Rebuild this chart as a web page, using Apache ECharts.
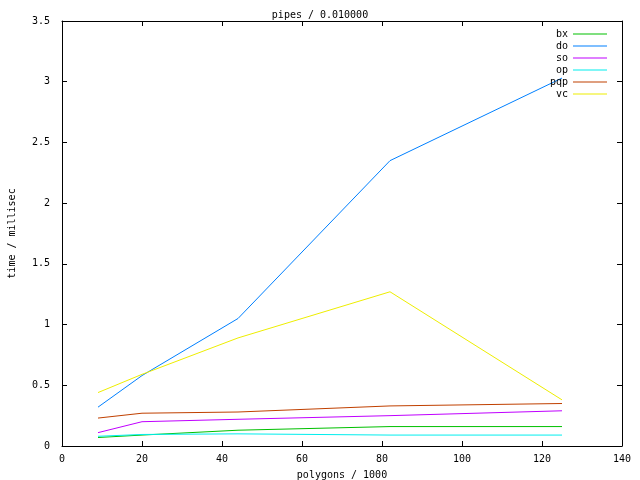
<!DOCTYPE html>
<html><head><meta charset="utf-8">
<script src="https://cdn.jsdelivr.net/npm/echarts@6/dist/echarts.min.js"></script>
<style>html,body{margin:0;padding:0;background:#fff}#c{width:640px;height:480px}</style>
</head><body><div id="c"></div>
<script>
var xs = [9, 20, 44, 82, 125];
var bx = [0.07, 0.09, 0.13, 0.16, 0.16];
var dO = [0.32, 0.58, 1.05, 2.35, 3.03];
var so = [0.11, 0.20, 0.22, 0.25, 0.29];
var op = [0.08, 0.095, 0.10, 0.09, 0.09];
var pqp = [0.23, 0.27, 0.28, 0.33, 0.35];
var vc = [0.44, 0.59, 0.89, 1.27, 0.38];
var names = ['bx', 'do', 'so', 'op', 'pqp', 'vc'];
var values = [bx, dO, so, op, pqp, vc];
var colors = ['#00c000', '#0080ff', '#c000ff', '#00eeee', '#c04000', '#eeee00'];

var font = 'DejaVu Sans Mono';
function pairs(v){ return xs.map(function(x,i){ return [x, v[i]]; }); }
var series = names.map(function(n,i){
  return { name: n, type: 'line', data: pairs(values[i]), showSymbol: false, symbol: 'none',
    lineStyle: { color: colors[i], width: 1 }, itemStyle: { color: colors[i] }, animation: false };
});
var tick = { show: true, inside: true, length: 5, lineStyle: { color: '#000' } };
var line = { show: true, onZero: false, lineStyle: { color: '#000', width: 1 } };
var chart = echarts.init(document.getElementById('c'));
chart.setOption({
  animation: false,
  backgroundColor: '#fff',
  title: { text: 'pipes / 0.010000', left: 'center', top: 5,
    textStyle: { fontFamily: font, fontSize: 10, fontWeight: 'normal', color: '#000' } },
  legend: { orient: 'vertical', right: 28, top: 23, align: 'right', itemGap: 0,
    icon: 'rect', itemWidth: 34, itemHeight: 1,
    textStyle: { fontFamily: font, fontSize: 10, color: '#000', lineHeight: 12 },
    data: names.map(function(n,i){ return { name: n, itemStyle: { color: colors[i] } }; }) },
  grid: { left: 62, right: 18, top: 21, bottom: 34, outerBoundsMode: 'none', containLabel: false },
  xAxis: [
    { type: 'value', min: 0, max: 140, interval: 20, name: 'polygons / 1000', nameLocation: 'middle', nameGap: 24,
      nameTextStyle: { fontFamily: font, fontSize: 10, color: '#000' },
      axisLine: line, axisTick: tick, splitLine: { show: false },
      axisLabel: { fontFamily: font, fontSize: 10, color: '#000', margin: 8 } },
    { type: 'value', position: 'top', min: 0, max: 140, interval: 20,
      axisLine: line, axisTick: tick, splitLine: { show: false }, axisLabel: { show: false } }
  ],
  yAxis: [
    { type: 'value', min: 0, max: 3.5, interval: 0.5, name: 'time / millisec', nameLocation: 'middle', nameGap: 45,
      nameTextStyle: { fontFamily: font, fontSize: 10, color: '#000' },
      axisLine: line, axisTick: tick, splitLine: { show: false },
      axisLabel: { fontFamily: font, fontSize: 10, color: '#000', margin: 12 } },
    { type: 'value', position: 'right', min: 0, max: 3.5, interval: 0.5,
      axisLine: line, axisTick: tick, splitLine: { show: false }, axisLabel: { show: false } }
  ],
  series: series
});
</script></body></html>
